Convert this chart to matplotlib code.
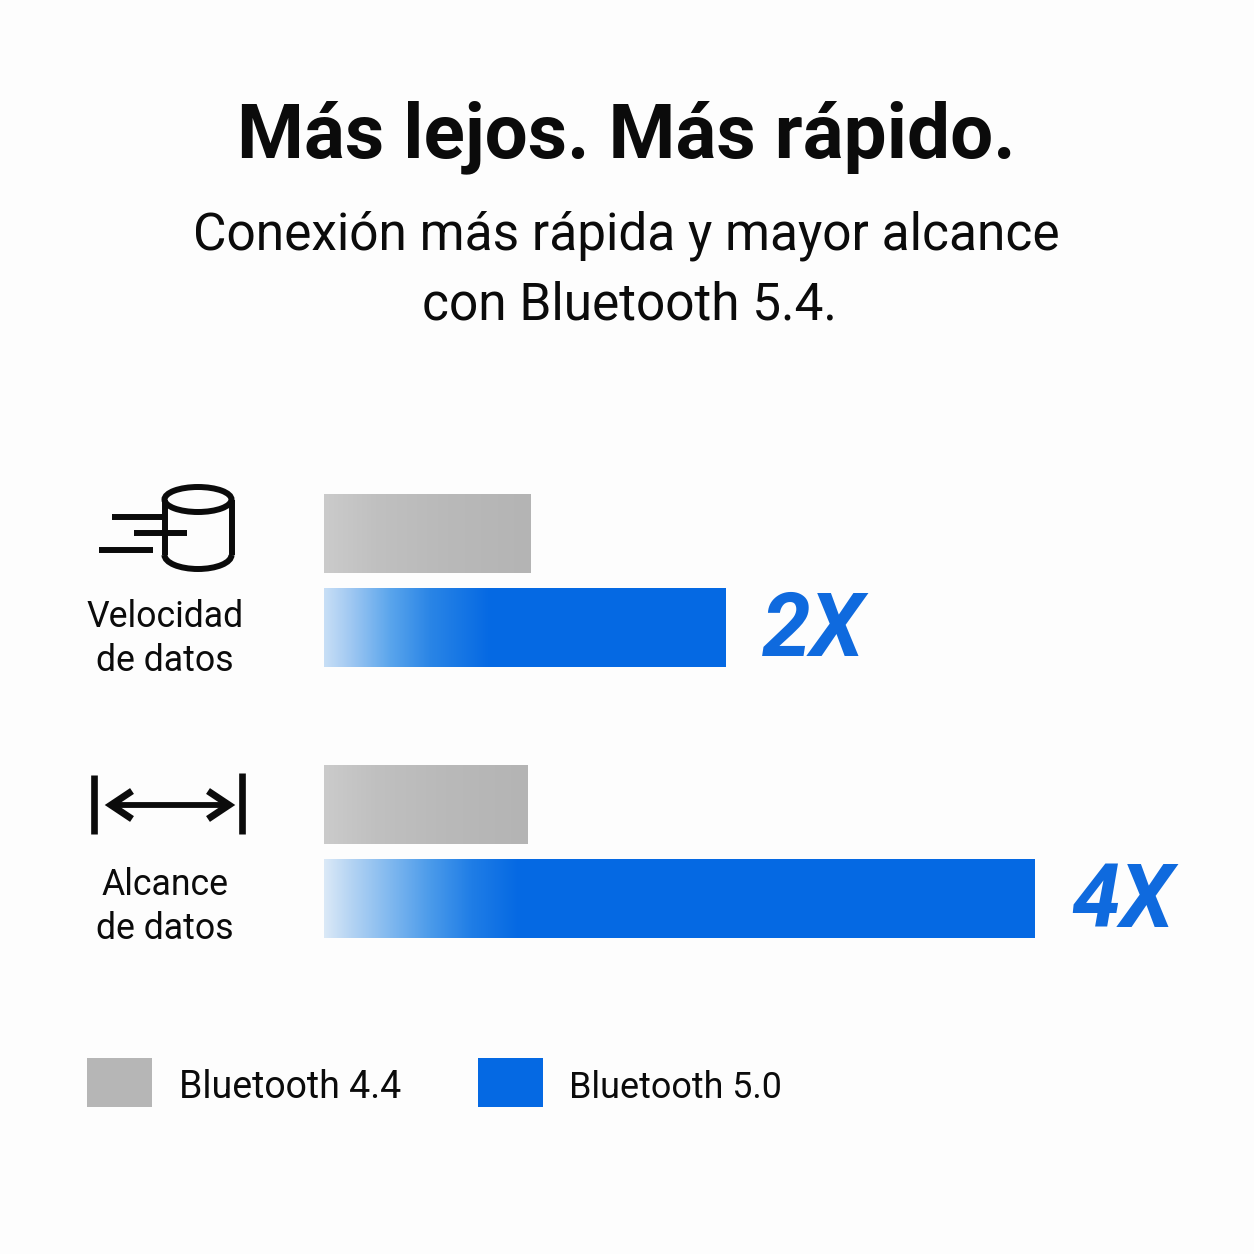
import numpy as np
import matplotlib
matplotlib.use("Agg")
import matplotlib.pyplot as plt
from matplotlib.colors import LinearSegmentedColormap
from matplotlib.patches import Rectangle, Ellipse, Arc

title = "Más lejos. Más rápido."
subtitle = "Conexión más rápida y mayor alcance\ncon Bluetooth 5.4."
categories = ["Velocidad\nde datos", "Alcance\nde datos"]
series_names = ["Bluetooth 4.4", "Bluetooth 5.0"]
bt44_values = [1.0, 0.985]
bt50_values = [1.94, 3.435]
multipliers = ["2X", "4X"]

W = H = 1254
BG = "#fdfdfd"
BLUE = "#0569e3"
BLUE_TEXT = "#0f6ade"
GREY_D = "#b6b6b6"
INK = "#0b0b0b"
FONT = "Roboto"

fig = plt.figure(figsize=(W / 100, H / 100), dpi=100, facecolor=BG)

ov = fig.add_axes([0, 0, 1, 1], zorder=3)
ov.set_xlim(0, W)
ov.set_ylim(H, 0)
ov.axis("off")
ov.patch.set_alpha(0)

left, right = 324, 1224
top, bottom = 480, 953
ax = fig.add_axes([left / W, 1 - bottom / H, (right - left) / W, (bottom - top) / H], zorder=2)
ax.patch.set_alpha(0)
y_c = np.arange(len(categories))
step = 271
ax.axis("off")
off, h = 46.75 / step, 78.5 / step

grey_cm = LinearSegmentedColormap.from_list("g", [(0, "#cbcbcb"), (0.25, "#c0c0c0"), (0.6, "#b9b9b9"), (1, "#b4b4b4")])
fade_cms = [
    LinearSegmentedColormap.from_list("b1", [(0, "#c8dff6"), (0.16, "#a0c8f2"), (0.40, "#5aa5ec"), (0.64, "#2a85e6"), (1, BLUE)]),
    LinearSegmentedColormap.from_list("b2", [(0, "#dbe9f7"), (0.135, "#b5d4f3"), (0.34, "#80b8ef"), (0.55, "#4a9aea"), (0.76, "#1f7de6"), (1, BLUE)]),
]
fade_px = [166, 195]
grad = np.linspace(0, 1, 256)[None, :]

for i, (a, b) in enumerate(zip(bt44_values, bt50_values)):
    y1, y2 = y_c[i] - off, y_c[i] + off
    ax.barh(y1, a, height=h, color=GREY_D, lw=0)
    ax.imshow(grad, cmap=grey_cm, extent=(0, a, y1 + h / 2, y1 - h / 2), aspect="auto", zorder=3)
    ax.barh(y2, b, height=h, color=BLUE, lw=0)
    fade = fade_px[i] / 207
    ax.imshow(grad, cmap=fade_cms[i], extent=(0, fade, y2 + h / 2, y2 - h / 2), aspect="auto", zorder=3)
    ax.annotate(multipliers[i], (b, y2), xytext=(26, -3), textcoords="offset points",
                color=BLUE_TEXT, fontsize=63, fontweight="bold", fontstyle="italic",
                family="Roboto", va="center", ha="left")
ax.set_xlim(0, (right - left) / 207)
ax.set_ylim((bottom - 534 - 46.75) / step, (top - 534 - 46.75) / step)

ov.text(626, 137, title, ha="center", va="center", fontsize=55, fontweight="bold", family=FONT, color=INK)
ov.text(626, 236, subtitle.split("\n")[0], ha="center", va="center", fontsize=37, family=FONT, color=INK)
ov.text(629, 306, subtitle.split("\n")[1], ha="center", va="center", fontsize=37, family=FONT, color=INK)

pos = [(165, 617, 661), (165, 885, 929)]
for (x, y1, y2), c in zip(pos, categories):
    l1, l2 = c.split("\n")
    ov.text(x, y1, l1, ha="center", va="center", fontsize=25.7, family=FONT, color=INK)
    ov.text(x, y2, l2, ha="center", va="center", fontsize=25.7, family=FONT, color=INK)

lw = 4.3
ov.add_patch(Ellipse((198, 499.5), 67, 25, fc="none", ec=INK, lw=lw))
ov.plot([164.5, 164.5], [499.5, 555], color=INK, lw=lw, solid_capstyle="butt")
ov.plot([231.5, 231.5], [499.5, 555], color=INK, lw=lw, solid_capstyle="butt")
ov.add_patch(Arc((198, 555), 67, 28, theta1=0, theta2=180, ec=INK, lw=lw))
for x0, x1, y in [(112, 163, 517), (134, 187, 533), (99, 153, 550)]:
    ov.plot([x0, x1], [y, y], color=INK, lw=lw, solid_capstyle="butt")

ov.plot([94, 94], [775, 834], color=INK, lw=4.8, solid_capstyle="butt")
ov.plot([241.5, 241.5], [773, 834], color=INK, lw=4.8, solid_capstyle="butt")
ov.plot([112, 230], [805, 805], color=INK, lw=4.2, solid_capstyle="butt")
ov.plot([132, 111, 132], [791, 805, 819], color=INK, lw=5, solid_joinstyle="miter", solid_capstyle="butt")
ov.plot([208, 229, 208], [791, 805, 819], color=INK, lw=5, solid_joinstyle="miter", solid_capstyle="butt")

ov.add_patch(Rectangle((87, 1058), 65, 49, fc=GREY_D, lw=0))
ov.add_patch(Rectangle((478, 1058), 65, 49, fc=BLUE, lw=0))
ov.text(179, 1088, series_names[0], ha="left", va="center", fontsize=27, family=FONT, color=INK)
ov.text(569, 1088, series_names[1], ha="left", va="center", fontsize=25.8, family=FONT, color=INK)

fig.savefig("out.png", dpi=100, facecolor=BG)
